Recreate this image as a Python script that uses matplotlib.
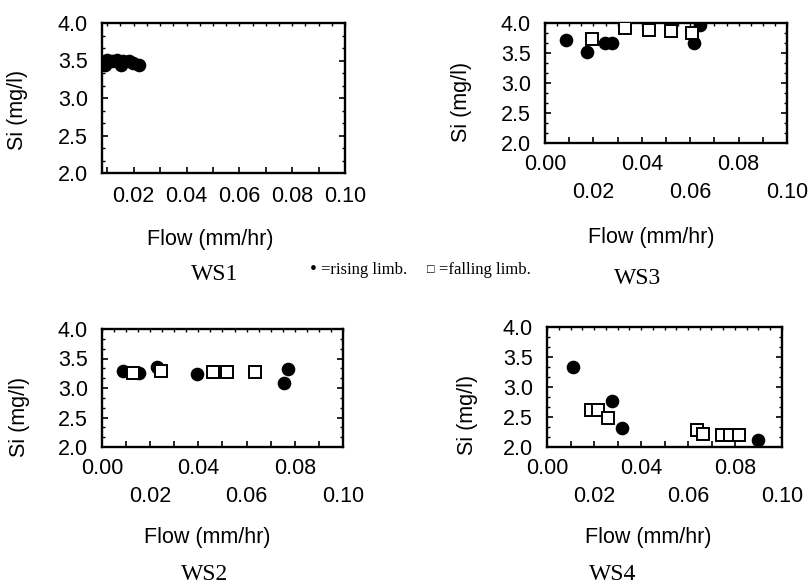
import matplotlib
matplotlib.use("Agg")
import matplotlib.pyplot as plt
from matplotlib.ticker import FixedLocator, MultipleLocator, NullFormatter

# ---------------- data ----------------
ws1_rise_x = [0.0093, 0.0099, 0.0118, 0.0136, 0.0151, 0.0161, 0.0184, 0.0199, 0.0221]
ws1_rise_y = [3.44, 3.51, 3.50, 3.51, 3.44, 3.49, 3.50, 3.47, 3.44]

ws3_rise_x = [0.0087, 0.0175, 0.0248, 0.0276, 0.0617, 0.0640]
ws3_rise_y = [3.72, 3.52, 3.66, 3.66, 3.67, 3.97]
ws3_fall_x = [0.0196, 0.0331, 0.0431, 0.0520, 0.0606]
ws3_fall_y = [3.74, 3.91, 3.89, 3.87, 3.84]

ws2_rise_x = [0.0088, 0.0155, 0.0227, 0.0393, 0.0773, 0.0755]
ws2_rise_y = [3.29, 3.25, 3.35, 3.24, 3.32, 3.08]
ws2_fall_x = [0.0127, 0.0245, 0.0462, 0.0520, 0.0635]
ws2_fall_y = [3.25, 3.28, 3.27, 3.27, 3.27]

ws4_rise_x = [0.0109, 0.0275, 0.0320, 0.0897]
ws4_rise_y = [3.33, 2.77, 2.31, 2.12]
ws4_fall_x = [0.0187, 0.0218, 0.0261, 0.0637, 0.0665, 0.0743, 0.0779, 0.0818]
ws4_fall_y = [2.62, 2.62, 2.49, 2.29, 2.21, 2.20, 2.20, 2.20]

y_ticks = [2.0, 2.5, 3.0, 3.5, 4.0]
y_ticklabels = ["2.0", "2.5", "3.0", "3.5", "4.0"]
x_row1 = [0.00, 0.04, 0.08]
x_row1_labels = ["0.00", "0.04", "0.08"]
x_row2 = [0.02, 0.06, 0.10]
x_row2_labels = ["0.02", "0.06", "0.10"]
x_single = [0.02, 0.04, 0.06, 0.08, 0.10]
x_single_labels = ["0.02", "0.04", "0.06", "0.08", "0.10"]
x_odd = [0.01, 0.03, 0.05, 0.07, 0.09]

titles = ["WS1", "WS3", "WS2", "WS4"]
xlabel = "Flow (mm/hr)"
ylabel = "Si (mg/l)"
legend_rise = "=rising limb."
legend_fall = "=falling limb."

# ---------------- figure ----------------
W, H = 809, 584
fig = plt.figure(figsize=(W / 100, H / 100), dpi=100)
SANS = "Liberation Sans"
SERIF = ["Liberation Serif", "DejaVu Serif"]
FS = 15.5


def fx(px):
    return px / W


def fy(py):
    return 1 - py / H


def make_axes(left, right, top, bottom):
    return fig.add_axes([fx(left), fy(bottom), (right - left) / W, (bottom - top) / H])


def style(ax, xlim, staggered, ylab_px, xlab_px, box):
    left, right, top, bottom = box
    ax.set_xlim(*xlim)
    ax.set_ylim(2.0, 4.0)
    for s in ax.spines.values():
        s.set_linewidth(1.7)
    # y axis
    ax.yaxis.set_major_locator(FixedLocator(y_ticks))
    ax.set_yticklabels(y_ticklabels, fontfamily=SANS, fontsize=FS)
    ax.yaxis.set_minor_locator(MultipleLocator(1 / 6))
    ax.tick_params(axis="y", which="major", direction="in", left=True, right=True,
                   length=4, width=1.2, pad=10)
    ax.tick_params(axis="y", which="minor", direction="in", left=True, right=True,
                   length=2.5, width=1.0)
    # x axis
    if staggered:
        ax.xaxis.set_major_locator(FixedLocator(x_row1))
        ax.set_xticklabels(x_row1_labels, fontfamily=SANS, fontsize=FS)
        ax.xaxis.set_minor_locator(FixedLocator(x_row2))
        ax.xaxis.set_minor_formatter(NullFormatter())
        ax.set_xticks(x_row2, x_row2_labels, minor=True, fontfamily=SANS, fontsize=FS)
        ax.tick_params(axis="x", which="major", direction="in", top=False,
                       length=4, width=1.2, pad=8)
        ax.tick_params(axis="x", which="minor", direction="in", top=False,
                       length=4, width=1.2, pad=28)
    else:
        ax.xaxis.set_major_locator(FixedLocator(x_single))
        ax.set_xticklabels(x_single_labels, fontfamily=SANS, fontsize=FS)
        ax.xaxis.set_minor_locator(FixedLocator([]))
        ax.tick_params(axis="x", which="major", direction="in", top=False,
                       length=4, width=1.2, pad=9)
    sec = ax.secondary_xaxis("bottom")
    sec.set_xticks(x_odd)
    sec.tick_params(direction="in", length=4, width=1.2, labelbottom=False)
    sec.spines["bottom"].set_visible(False)
    sec_top = ax.secondary_xaxis("top")
    sec_top.xaxis.set_major_locator(MultipleLocator(0.005))
    sec_top.tick_params(direction="in", length=2.5, width=1.0, labeltop=False)
    sec_top.spines["top"].set_visible(False)

    ax.set_ylabel(ylabel, fontfamily=SANS, fontsize=FS)
    ax.yaxis.set_label_coords((ylab_px[0] - left) / (right - left),
                              (bottom - ylab_px[1]) / (bottom - top))
    ax.yaxis.label.set_va("center")
    ax.yaxis.label.set_ha("center")
    ax.set_xlabel(xlabel, fontfamily=SANS, fontsize=FS)
    ax.xaxis.set_label_coords((xlab_px[0] - left) / (right - left),
                              (bottom - xlab_px[1]) / (bottom - top))
    ax.xaxis.label.set_va("center")


def draw(ax, rx, ry, fxs=None, fys=None):
    ax.plot(rx, ry, "o", color="black", markersize=8.8, zorder=3)
    if fxs is not None:
        ax.plot(fxs, fys, "s", markerfacecolor="white", markeredgecolor="black",
                markeredgewidth=1.4, markersize=8.5, zorder=4)


# WS1
box1 = (102, 345, 23, 173)
ax1 = make_axes(*box1)
draw(ax1, ws1_rise_x, ws1_rise_y)
style(ax1, (0.008, 0.10), False, (18, 110), (210, 240), box1)

# WS3
box3 = (545, 787, 23, 143)
ax3 = make_axes(*box3)
draw(ax3, ws3_rise_x, ws3_rise_y, ws3_fall_x, ws3_fall_y)
style(ax3, (0.0, 0.10), True, (462, 102), (651, 237), box3)

# WS2
box2 = (102, 343, 329, 447)
ax2 = make_axes(*box2)
draw(ax2, ws2_rise_x, ws2_rise_y, ws2_fall_x, ws2_fall_y)
style(ax2, (0.0, 0.10), True, (20, 417), (207, 538), box2)

# WS4
box4 = (547, 782, 327, 447)
ax4 = make_axes(*box4)
draw(ax4, ws4_rise_x, ws4_rise_y, ws4_fall_x, ws4_fall_y)
style(ax4, (0.0, 0.10), True, (468, 415), (648, 538), box4)

# panel captions
for t, (px, py) in zip(titles, [(215, 275), (638, 279), (205, 575), (613, 575)]):
    fig.text(fx(px), fy(py), t, family=SERIF, fontsize=17, ha="center", va="center")

# legend text
fig.text(fx(313), fy(270), "\u2022", family=SERIF, fontsize=14, ha="center", va="center")
fig.text(fx(321), fy(270), legend_rise, family=SERIF, fontsize=12, ha="left", va="center")
fig.text(fx(431), fy(270), "\u25a1", family=SERIF, fontsize=9, ha="center", va="center")
fig.text(fx(439), fy(270), legend_fall, family=SERIF, fontsize=12, ha="left", va="center")

fig.savefig("out.png", dpi=100)
